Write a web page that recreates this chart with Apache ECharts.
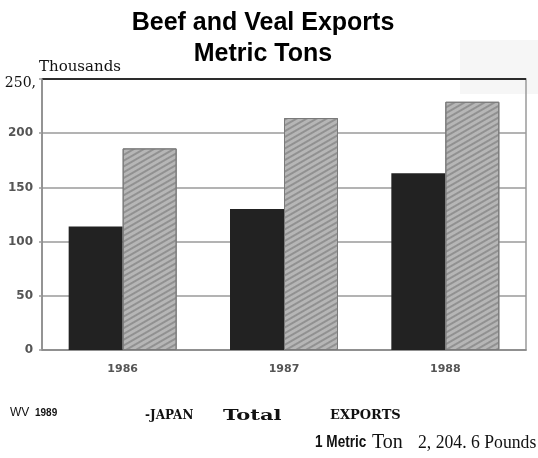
<!DOCTYPE html>
<html>
<head>
<meta charset="utf-8">
<style>
html,body{margin:0;padding:0;background:#fff;}
#chart{width:538px;height:458px;}
</style>
<script src="https://cdn.jsdelivr.net/npm/echarts@6/dist/echarts.min.js"></script>
</head>
<body>
<div id="chart"></div>
<script>
// ---- data ----
const years = ['1986', '1987', '1988'];
const japan = [114, 130, 163];
const totalExports = [186, 214, 229];
const yMin = 0, yMax = 250, yInterval = 50;
const topTickLabel = '250,';
const titleLines = ['Beef and Veal Exports', 'Metric Tons'];
const unitLabel = 'Thousands';
const sourceText = ['WV', '1989'];
const legendTexts = ['-JAPAN', 'Total', 'EXPORTS'];
const noteTexts = ['1 Metric', 'Ton', '2, 204. 6 Pounds'];
const seriesNames = ['JAPAN', 'Total EXPORTS'];

const chart = echarts.init(document.getElementById('chart'), null, {renderer: 'canvas'});

function txt(text, x, y, font, opts) {
  opts = opts || {};
  return {
    type: 'text', x: x, y: y, z: 100,
    scaleX: opts.scaleX || 1,
    style: {
      text: text, font: font, fill: opts.fill || '#111',
      textAlign: opts.align || 'left', textVerticalAlign: 'middle'
    }
  };
}

const option = {
  animation: false,
  backgroundColor: '#fff',
  grid: {
    left: 42, right: 12, top: 79, bottom: 108,
    show: true, borderColor: '#9a9a9a', borderWidth: 1.5, backgroundColor: 'transparent'
  },
  xAxis: {
    type: 'category',
    data: years,
    axisLine: {show: true, lineStyle: {color: '#8a8a8a', width: 1.5}},
    axisTick: {show: false},
    axisLabel: {
      margin: 14, color: '#555', fontFamily: 'DejaVu Sans', fontWeight: 'bold', fontSize: 11
    }
  },
  yAxis: {
    type: 'value',
    min: yMin, max: yMax, interval: yInterval,
    axisLine: {show: true, lineStyle: {color: '#8a8a8a', width: 1.5}},
    axisTick: {show: true, length: 3, lineStyle: {color: '#9a9a9a', width: 1.5}},
    splitLine: {show: true, lineStyle: {color: ['#9a9a9a', '#9a9a9a', '#9a9a9a', '#9a9a9a', '#9a9a9a', '#000'], width: 1.5}},
    axisLabel: {
      margin: 9, color: '#555', fontFamily: 'DejaVu Sans', fontWeight: 'bold', fontSize: 12,
      formatter: function (v) { return v === yMax ? '' : String(v); }
    }
  },
  series: [
    {
      name: seriesNames[0], type: 'bar', data: japan,
      barWidth: 54, barGap: '0%',
      itemStyle: {color: '#222'}
    },
    {
      name: seriesNames[1], type: 'bar', data: totalExports,
      barWidth: 54,
      itemStyle: {
        color: '#b6b6b6', borderColor: '#7a7a7a', borderWidth: 1,
        decal: {
          symbol: 'rect', symbolSize: 1,
          dashArrayX: [1, 0], dashArrayY: [1.5, 3],
          rotation: -Math.PI / 6,
          color: 'rgba(125,125,125,0.65)'
        }
      }
    }
  ],
  graphic: [
    {type: 'rect', z: -10, shape: {x: 460, y: 40, width: 78, height: 54}, style: {fill: '#f6f6f6'}},
    txt(titleLines[0], 263, 23, 'bold 25px "Liberation Sans", Arial, sans-serif', {align: 'center', fill: '#000'}),
    txt(titleLines[1], 263, 54, 'bold 25px "Liberation Sans", Arial, sans-serif', {align: 'center', fill: '#000'}),
    txt(unitLabel, 39, 67, '15px "DejaVu Serif", serif'),
    txt(topTickLabel, 36, 83, '14px "DejaVu Serif", serif', {align: 'right'}),
    txt(sourceText[0], 10, 413, '12px "Liberation Sans", Arial, sans-serif'),
    txt(sourceText[1], 35, 413, 'bold 10px "Liberation Sans", Arial, sans-serif'),
    txt(legendTexts[0], 145, 416, 'bold 12px "DejaVu Serif", serif'),
    txt(legendTexts[1], 223, 416, 'bold 15px "DejaVu Serif", serif', {scaleX: 1.4}),
    txt(legendTexts[2], 330, 416, 'bold 13px "DejaVu Serif", serif'),
    txt(noteTexts[0], 315, 443, 'bold 16px "Liberation Sans", Arial, sans-serif', {scaleX: 0.85}),
    txt(noteTexts[1], 372, 443, '20px "Liberation Serif", serif'),
    txt(noteTexts[2], 418, 443, '19px "Liberation Serif", serif', {scaleX: 0.93})
  ]
};
chart.setOption(option);
</script>
</body>
</html>
